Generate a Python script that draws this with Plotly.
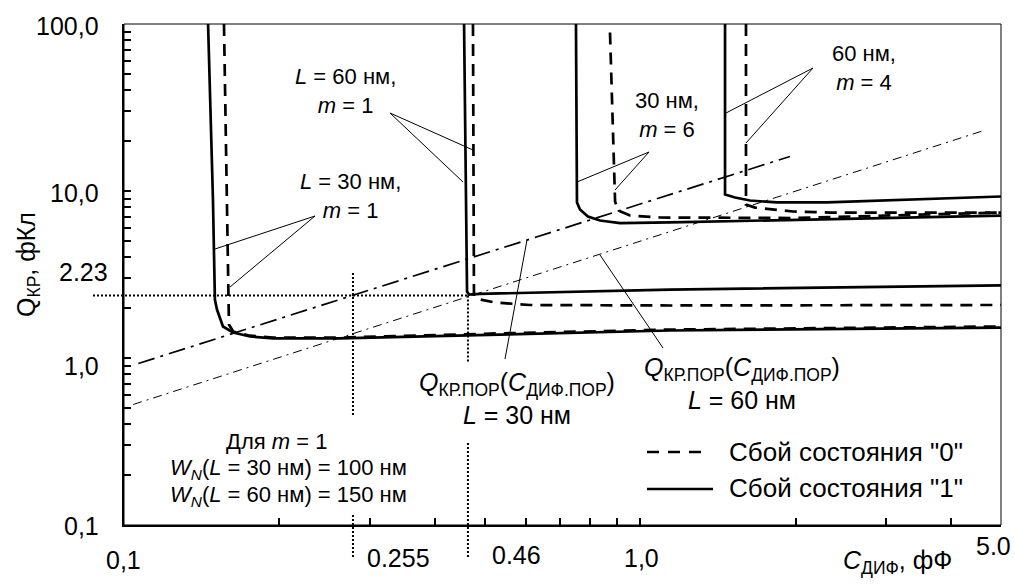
import math
import plotly.graph_objects as go

# ---------------- data ----------------
# L = 30 nm, m = 1
c30_m1_fail1_x = [0.1455, 0.1487, 0.150, 0.1514, 0.1555, 0.1627, 0.1754, 0.1944, 0.262, 0.512, 1.142, 5.0]
c30_m1_fail1_y = [100, 8.90, 2.24, 1.95, 1.544, 1.421, 1.345, 1.309, 1.309, 1.382, 1.461, 1.522]
c30_m1_fail0_x = [0.1562, 0.159, 0.1597, 0.1627, 0.1754, 0.1944, 0.262, 0.512, 1.142, 5.0]
c30_m1_fail0_y = [100, 2.47, 1.587, 1.441, 1.36, 1.325, 1.325, 1.40, 1.48, 1.545]
# L = 60 nm, m = 1
c60_m1_fail1_x = [0.4558, 0.4619, 0.466, 0.4893, 1.142, 5.0]
c60_m1_fail1_y = [100, 2.50, 2.40, 2.42, 2.57, 2.72]
c60_m1_fail0_x = [0.4743, 0.4764, 0.4893, 0.5233, 0.6115, 1.142, 5.0]
c60_m1_fail0_y = [100, 2.335, 2.24, 2.15, 2.077, 2.063, 2.077]
# L = 30 nm, m = 6
c30_m6_fail1_x = [0.7509, 0.7543, 0.7644, 0.7921, 0.8358, 0.9139, 1.142, 2.040, 5.0]
c30_m6_fail1_y = [100, 8.54, 7.75, 7.04, 6.66, 6.43, 6.48, 6.75, 7.13]
c30_m6_fail0_x = [0.874, 0.894, 0.906, 0.9555, 1.092, 1.977, 5.0]
c30_m6_fail0_y = [88.9, 8.65, 7.64, 7.13, 6.94, 6.89, 7.43]
# L = 60 nm, m = 4
c60_m4_fail1_x = [1.460, 1.460, 1.527, 1.632, 1.841, 2.301, 5.0]
c60_m4_fail1_y = [100, 9.53, 9.14, 8.77, 8.54, 8.54, 9.27]
c60_m4_fail0_x = [1.603, 1.603, 1.669, 1.977, 2.332, 5.0]
c60_m4_fail0_y = [100, 8.30, 7.96, 7.54, 7.43, 7.43]
# threshold lines Q_KP.POP(C_DIF.POP)
thr30_x = [0.1066, 1.95]
thr30_y = [0.927, 16.1]
thr60_x = [0.1042, 4.587]
thr60_y = [0.527, 22.8]
# reference (dotted) values
ref_x = [0.2777, 0.4638]
ref_y = 2.367

x_tick_vals = [0.1, 0.2, 0.3, 0.4, 0.5, 0.6, 0.7, 0.8, 0.9, 1, 2, 3, 4, 5]
y_tick_vals = [m * 10 ** e for e in (-1, 0, 1) for m in range(1, 10)] + [100]

# ---------------- layout helpers ----------------
W, H = 1015, 587
ML, MR, MT, MB = 124, 14, 24, 62
PW, PH = W - ML - MR, H - MT - MB
XMIN, XMAX = -1.0, math.log10(5.0)
YMIN, YMAX = -1.0, 2.0
FONT = "Liberation Sans, Arial, sans-serif"


def px(x):
    return (x - ML) / PW


def py(y):
    return (H - MB - y) / PH


def dx(v):
    return (math.log10(v) - XMIN) / (XMAX - XMIN)


def dy(v):
    return (math.log10(v) - YMIN) / (YMAX - YMIN)


fig = go.Figure()

SOLID = dict(color="black", width=2.7)
DASHED = dict(color="black", width=2.7, dash="12px,8px")

curves = [
    (c30_m1_fail0_x, c30_m1_fail0_y, DASHED),
    (c30_m1_fail1_x, c30_m1_fail1_y, SOLID),
    (c60_m1_fail0_x, c60_m1_fail0_y, DASHED),
    (c60_m1_fail1_x, c60_m1_fail1_y, SOLID),
    (c30_m6_fail0_x, c30_m6_fail0_y, DASHED),
    (c30_m6_fail1_x, c30_m6_fail1_y, SOLID),
    (c60_m4_fail0_x, c60_m4_fail0_y, DASHED),
    (c60_m4_fail1_x, c60_m4_fail1_y, SOLID),
]
for xs, ys, ln in curves:
    fig.add_trace(go.Scatter(x=xs, y=ys, mode="lines", line=ln, showlegend=False, hoverinfo="skip"))

fig.add_trace(go.Scatter(x=thr30_x, y=thr30_y, mode="lines",
                         line=dict(color="black", width=1.7, dash="17px,6px,3px,6px"),
                         showlegend=False, hoverinfo="skip"))
fig.add_trace(go.Scatter(x=thr60_x, y=thr60_y, mode="lines",
                         line=dict(color="black", width=1.0, dash="9px,5px,2px,5px"),
                         showlegend=False, hoverinfo="skip"))

shapes = []
# frame
shapes.append(dict(type="rect", xref="paper", yref="paper", x0=0, x1=1, y0=0, y1=1,
                   line=dict(color="black", width=1)))

DOT = dict(color="black", width=2, dash="2px,2px")
# dotted reference lines
shapes.append(dict(type="line", xref="paper", yref="paper", x0=px(93), x1=dx(ref_x[1]),
                   y0=dy(ref_y), y1=dy(ref_y), line=DOT))
for x0, segs in ((ref_x[0], [(273, 415), (515, 557)]), (ref_x[1], [(None, 363), (443, 557)])):
    for a, b in segs:
        ya = dy(ref_y) if a is None else py(a)
        shapes.append(dict(type="line", xref="paper", yref="paper", x0=dx(x0), x1=dx(x0),
                           y0=ya, y1=py(b), line=DOT))

# leader lines
THIN = dict(color="black", width=1)
leaders = [
    ((390, 113), (473, 150)), ((390, 113), (463, 182)),
    ((315, 216), (215, 249)), ((315, 216), (230, 287)),
    ((649, 152), (577, 182)), ((649, 152), (615, 190)),
    ((813, 68), (726, 113)), ((813, 68), (746, 143)),
    ((527, 240), (505, 359)),
    ((600, 255), (663, 348)),
]
for (xa, ya), (xb, yb) in leaders:
    shapes.append(dict(type="line", xref="paper", yref="paper", x0=px(xa), y0=py(ya),
                       x1=px(xb), y1=py(yb), line=THIN))

# legend samples
shapes.append(dict(type="line", xref="paper", yref="paper", x0=px(647), x1=px(703),
                   y0=py(452), y1=py(452), line=dict(color="black", width=2.7, dash="12px,9px")))
shapes.append(dict(type="line", xref="paper", yref="paper", x0=px(647), x1=px(713),
                   y0=py(489), y1=py(489), line=dict(color="black", width=2.7)))

ann = []


def text(t, x, y, size=23, xanchor="center", yanchor="middle", **kw):
    ann.append(dict(text=t, x=px(x), y=py(y), xref="paper", yref="paper", showarrow=False,
                    xanchor=xanchor, yanchor=yanchor, font=dict(size=size, color="black", family=FONT), **kw))


# y tick labels
text("100,0", 101, 26, 25, xanchor="right")
text("10,0", 101, 193, 25, xanchor="right")
text("2.23", 110, 272, 25, xanchor="right")
text("1,0", 101, 366, 25, xanchor="right")
text("0,1", 101, 526, 25, xanchor="right")
# x tick labels
text("0,1", 123, 560, 25)
text("0.255", 398, 558, 25)
text("0.46", 516, 555, 25)
text("1,0", 641, 558, 25)
text("5.0", 993, 546, 25)
# axis titles
text("Q<sub>КР</sub>, фКл", 28, 265, 25, textangle=-90)
text("<i>C</i><sub>ДИФ</sub>, фФ", 897, 562, 25)

# curve labels
text("<i>L</i> = 60 нм,<br><i>m</i> = 1", 345, 91, 22)
text("<i>L</i> = 30 нм,<br><i>m</i> = 1", 350, 196, 22)
text("30 нм,<br><i>m</i> = 6", 667, 115, 22)
text("60 нм,<br><i>m</i> = 4", 864, 68, 22)
text("<i>Q</i><sub>КР.ПОР</sub>(<i>C</i><sub>ДИФ.ПОР</sub>)<br><i>L</i> = 30 нм", 517, 398, 25)
text("<i>Q</i><sub>КР.ПОР</sub>(<i>C</i><sub>ДИФ.ПОР</sub>)<br><i>L</i> = 60 нм", 742, 383, 25)
text("Для <i>m</i> = 1", 276, 441, 22)
text("<i>W<sub>N</sub></i>(<i>L</i> = 30 нм) = 100 нм", 288, 469, 22)
text("<i>W<sub>N</sub></i>(<i>L</i> = 60 нм) = 150 нм", 288, 496, 22)

# legend texts
text("Сбой состояния \"0\"", 727, 452, 26, xanchor="left")
text("Сбой состояния \"1\"", 727, 488, 26, xanchor="left")

axis_common = dict(type="log", showgrid=False, zeroline=False, showline=True, linecolor="black",
                   linewidth=2, ticks="inside", ticklen=7, tickwidth=1.5, tickcolor="black",
                   showticklabels=False)

fig.update_layout(
    width=W, height=H,
    margin=dict(l=ML, r=MR, t=MT, b=MB, pad=0),
    paper_bgcolor="white", plot_bgcolor="white",
    showlegend=False,
    xaxis=dict(range=[XMIN, XMAX], tickvals=x_tick_vals, **axis_common),
    yaxis=dict(range=[YMIN, YMAX], tickvals=y_tick_vals, **axis_common),
    shapes=shapes,
    annotations=ann,
    font=dict(family=FONT, color="black", size=23),
)

fig.write_html("out.html", config={"displayModeBar": False})
